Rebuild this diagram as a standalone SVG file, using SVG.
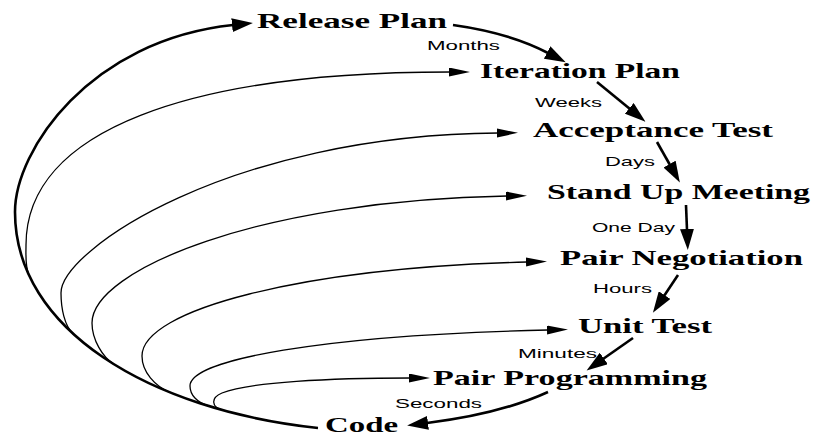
<svg xmlns="http://www.w3.org/2000/svg" width="820" height="437" viewBox="0 0 820 437">
  <style>
    .node { font-family: "Liberation Serif", "Times New Roman", serif; font-weight: bold; font-size: 22px; fill: #000; }
    .lbl { font-family: "Liberation Sans", Arial, sans-serif; font-size: 13px; fill: #000; }
    .thick { fill: none; stroke: #000; stroke-width: 2.6; }
    .thin { fill: none; stroke: #000; stroke-width: 1.3; }
  </style>
  <defs>
    <marker id="big" markerUnits="userSpaceOnUse" markerWidth="22" markerHeight="14" refX="1" refY="7" orient="auto">
      <path d="M0,0 L21,7 L0,14 z" fill="#000"/>
    </marker>
    <marker id="small" markerUnits="userSpaceOnUse" markerWidth="22" markerHeight="10" refX="1" refY="4.5" orient="auto">
      <path d="M0,0 L21,4.5 L0,9 z" fill="#000"/>
    </marker>
  </defs>

  <rect width="820" height="437" fill="#fff"/>

  <g id="connectors">
    <!-- outer loop: Code back to Release Plan -->
    <path class="thick" d="M318,428 C150,410 15,330 15,212 C15,150 90,40 233,25" marker-end="url(#big)"/>
    <!-- inner loops: each leaves the outer curve tangentially and turns right to its level -->
    <path class="thin" d="M28.9,275 C25,266 26,255 26,245 C26,130 190,72 450,72" marker-end="url(#small)"/>
    <path class="thin" d="M73.3,333.9 C64.4,325.9 61,308 61,293 C61,250 230,135 498,133" marker-end="url(#small)"/>
    <path class="thin" d="M113.6,364 C103,357.4 92,340 92,323 C92,270 260,200 507,196" marker-end="url(#small)"/>
    <path class="thin" d="M170.2,392.5 C155,386.3 142,372 142,356 C142,310 300,268 527,262" marker-end="url(#small)"/>
    <path class="thin" d="M208.6,406 C197,402.5 190,395 190,386 C190,360 320,335 548,330" marker-end="url(#small)"/>
    <path class="thin" d="M221.9,409.9 C212,407 210,398 222,393 C250,382 330,378 410,378" stroke-width="1.6" marker-end="url(#small)"/>

    <!-- downward chain -->
    <path class="thick" d="M453,25 Q510,33 548,53" marker-end="url(#big)"/>
    <path class="thick" d="M597,82 L630,109" marker-end="url(#big)"/>
    <path class="thick" d="M657,142 L670,165" marker-end="url(#big)"/>
    <path class="thick" d="M686,205 L687,230" marker-end="url(#big)"/>
    <path class="thick" d="M678,275 L664,296" marker-end="url(#big)"/>
    <path class="thick" d="M633,338 L603,359" marker-end="url(#big)"/>
    <path class="thick" d="M548,392 Q500,414 427,423" marker-end="url(#big)"/>

    <g id="edge-labels">
      <text class="lbl" x="427" y="50" textLength="73" lengthAdjust="spacingAndGlyphs">Months</text>
      <text class="lbl" x="535" y="107" textLength="67" lengthAdjust="spacingAndGlyphs">Weeks</text>
      <text class="lbl" x="605" y="166" textLength="50" lengthAdjust="spacingAndGlyphs">Days</text>
      <text class="lbl" x="592" y="232" textLength="83" lengthAdjust="spacingAndGlyphs">One Day</text>
      <text class="lbl" x="593" y="293" textLength="59" lengthAdjust="spacingAndGlyphs">Hours</text>
      <text class="lbl" x="518" y="358" textLength="79" lengthAdjust="spacingAndGlyphs">Minutes</text>
      <text class="lbl" x="395" y="408" textLength="87" lengthAdjust="spacingAndGlyphs">Seconds</text>
    </g>
  </g>

  <g id="release-plan"><text class="node" x="257" y="28" textLength="190" lengthAdjust="spacingAndGlyphs">Release Plan</text></g>
  <g id="iteration-plan"><text class="node" x="480" y="78" textLength="200" lengthAdjust="spacingAndGlyphs">Iteration Plan</text></g>
  <g id="acceptance-test"><text class="node" x="533" y="137" textLength="240" lengthAdjust="spacingAndGlyphs">Acceptance Test</text></g>
  <g id="stand-up-meeting"><text class="node" x="547" y="199" textLength="263" lengthAdjust="spacingAndGlyphs">Stand Up Meeting</text></g>
  <g id="pair-negotiation"><text class="node" x="560" y="265" textLength="243" lengthAdjust="spacingAndGlyphs">Pair Negotiation</text></g>
  <g id="unit-test"><text class="node" x="578" y="333" textLength="134" lengthAdjust="spacingAndGlyphs">Unit Test</text></g>
  <g id="pair-programming"><text class="node" x="433" y="385" textLength="274" lengthAdjust="spacingAndGlyphs">Pair Programming</text></g>
  <g id="code"><text class="node" x="325" y="432" textLength="73" lengthAdjust="spacingAndGlyphs">Code</text></g>
</svg>
